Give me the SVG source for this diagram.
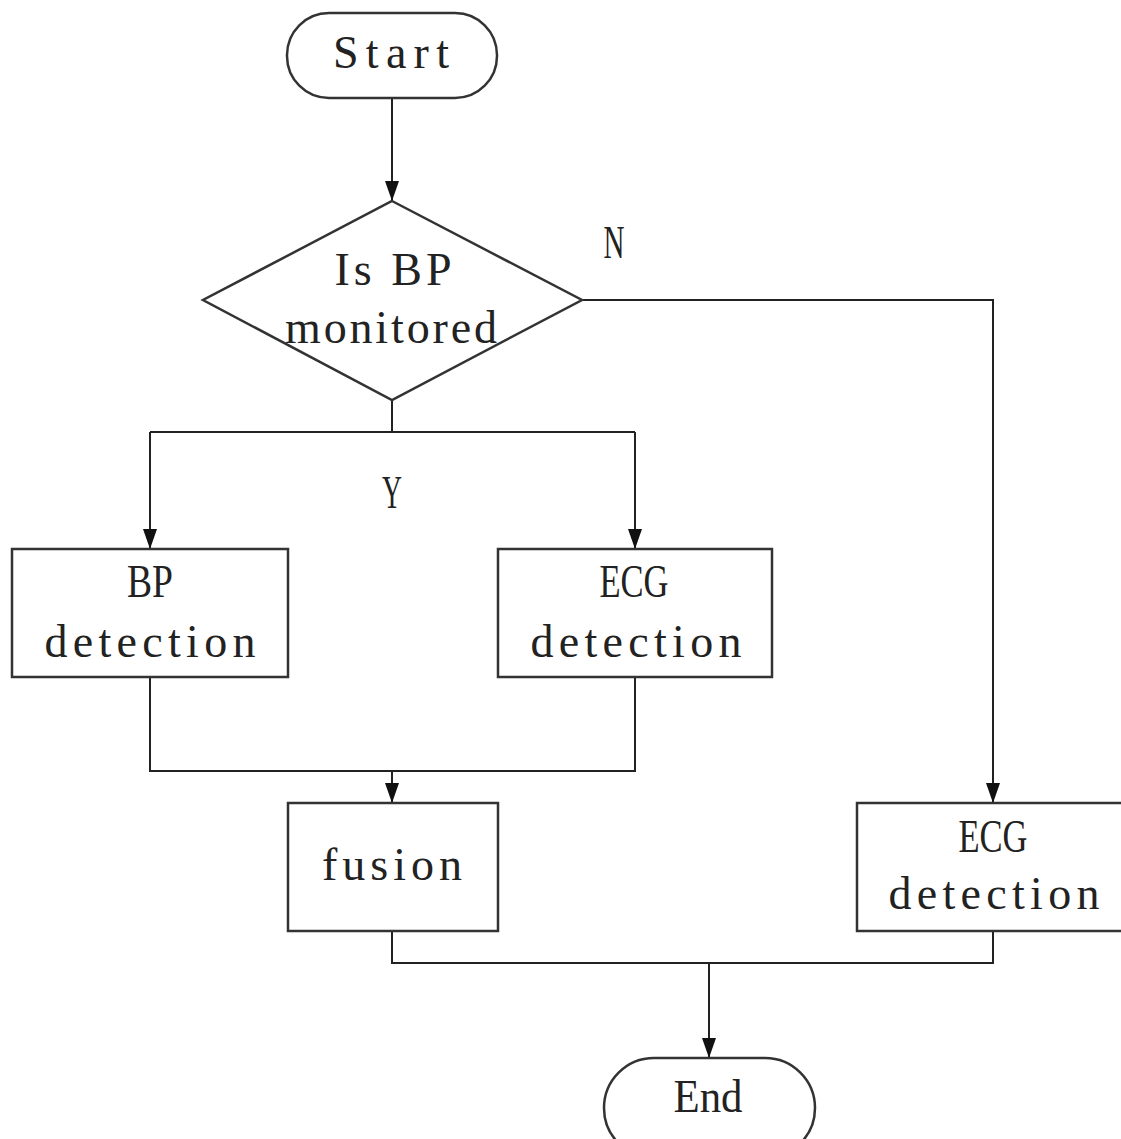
<svg xmlns="http://www.w3.org/2000/svg" width="1121" height="1139" viewBox="0 0 1121 1139">
<style>
.shape{fill:#fff;stroke:#333;stroke-width:2.5}
.line{fill:none;stroke:#222;stroke-width:2}
text{font-family:"Liberation Serif","Times New Roman",serif;font-size:46px;fill:#222;text-anchor:middle}
</style>
<defs>
<marker id="arr" viewBox="0 0 20 14" refX="20" refY="7" markerWidth="20" markerHeight="14" markerUnits="userSpaceOnUse" orient="auto">
<path d="M0,0 L20,7 L0,14 Z" fill="#111"/>
</marker>
</defs>
<rect width="1121" height="1139" fill="#fff"/>
<g id="connectors">
<path class="line" d="M392,98 V201" marker-end="url(#arr)"/>
<path class="line" d="M582,300 H993 V803" marker-end="url(#arr)"/>
<path class="line" d="M392,400 V432 M150,432 H635"/>
<path class="line" d="M150,432 V549" marker-end="url(#arr)"/>
<path class="line" d="M635,432 V549" marker-end="url(#arr)"/>
<path class="line" d="M150,677 V771 H635 V677"/>
<path class="line" d="M392,771 V803" marker-end="url(#arr)"/>
<path class="line" d="M392,931 V963 H993 V931"/>
<path class="line" d="M709,963 V1058" marker-end="url(#arr)"/>
<text x="614" y="258" textLength="21" lengthAdjust="spacingAndGlyphs">N</text>
<text x="392" y="508" textLength="20" lengthAdjust="spacingAndGlyphs">Y</text>
</g>
<g id="start">
<rect class="shape" x="287" y="13" width="210" height="85" rx="42" ry="42"/>
<text x="391" y="68" textLength="116" lengthAdjust="spacing">Start</text>
</g>
<g id="decision">
<polygon class="shape" points="392,201 582,300 392,400 203,300"/>
<text x="393" y="285" textLength="117" lengthAdjust="spacing">Is BP</text>
<text x="391" y="343" textLength="212" lengthAdjust="spacing">monitored</text>
</g>
<g id="bp-detection">
<rect class="shape" x="12" y="549" width="276" height="128"/>
<text x="150" y="597" textLength="46" lengthAdjust="spacingAndGlyphs">BP</text>
<text x="150" y="657" textLength="211" lengthAdjust="spacing">detection</text>
</g>
<g id="ecg-detection-1">
<rect class="shape" x="498" y="549" width="274" height="128"/>
<text x="634" y="597" textLength="69" lengthAdjust="spacingAndGlyphs">ECG</text>
<text x="636" y="657" textLength="211" lengthAdjust="spacing">detection</text>
</g>
<g id="fusion">
<rect class="shape" x="288" y="803" width="210" height="128"/>
<text x="392" y="880" textLength="140" lengthAdjust="spacing">fusion</text>
</g>
<g id="ecg-detection-2">
<rect class="shape" x="857" y="803" width="266" height="128"/>
<text x="993" y="852" textLength="69" lengthAdjust="spacingAndGlyphs">ECG</text>
<text x="994" y="909" textLength="211" lengthAdjust="spacing">detection</text>
</g>
<g id="end">
<rect class="shape" x="604" y="1058" width="211" height="100" rx="50" ry="50"/>
<text x="708" y="1112" textLength="69" lengthAdjust="spacingAndGlyphs">End</text>
</g>
</svg>
